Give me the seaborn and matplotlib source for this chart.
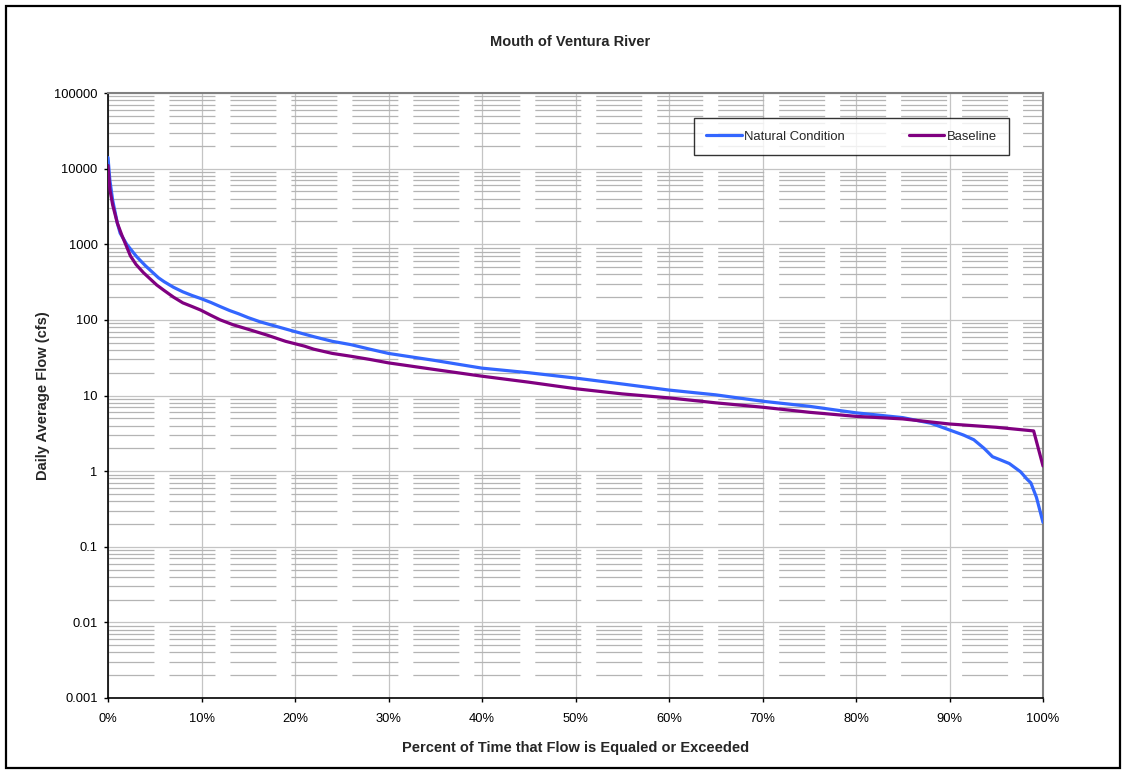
import matplotlib
matplotlib.use("Agg")
import matplotlib.pyplot as plt
from matplotlib.ticker import LogLocator, FuncFormatter, NullFormatter
from matplotlib.patches import Rectangle
import seaborn as sns
import pandas as pd

# ---- data ----
natural_pct = [0, 0.2, 0.5, 1.0, 1.3, 2, 3, 3.4, 4, 5, 5.4, 6, 7, 8, 9, 10, 11, 12, 13, 14, 15,
               16.3, 18, 20, 22, 24, 26, 28, 30, 35, 40, 45, 50, 55, 60, 65, 70, 75, 80, 85,
               88, 90, 91.5, 92.6, 93.7, 94.6, 95.5, 96.4, 97.6, 98.3, 98.7, 99.3, 100]
natural_cfs = [14000, 7000, 3800, 1900, 1400, 1000, 700, 620, 520, 400, 360, 320, 270, 235, 210,
               190, 170, 150, 133, 120, 107, 94, 82, 70, 60, 52, 47, 41, 36, 29, 23, 20, 17,
               14.2, 11.8, 10.2, 8.4, 7.2, 5.9, 5.1, 4.3, 3.5, 3.0, 2.6, 2.0, 1.55, 1.4, 1.26,
               0.98, 0.78, 0.70, 0.45, 0.21]

baseline_pct = [0, 0.2, 0.5, 1, 1.5, 2.4, 3, 3.8, 5.2, 6, 7, 8, 9, 9.9, 11, 12, 13.4, 15, 17,
                19, 21, 22, 24, 26, 28, 30, 35, 40, 45, 50, 55, 60, 65, 70, 75, 80, 85, 90,
                95, 99, 100]
baseline_cfs = [11000, 5300, 3300, 1900, 1300, 700, 540, 420, 290, 245, 200, 168, 150, 135, 115,
                100, 86, 75, 63, 52, 45, 41, 36, 33, 30, 27, 22, 18, 15, 12.3, 10.5, 9.3, 8.0,
                7.0, 6.0, 5.3, 4.9, 4.2, 3.8, 3.4, 1.17]

series_names = ["Natural Condition", "Baseline"]
series_colors = ["#3366FF", "#800080"]

title = "Mouth of Ventura River"
xlabel = "Percent of Time that Flow is Equaled or Exceeded"
ylabel = "Daily Average Flow (cfs)"
x_ticks = [0, 10, 20, 30, 40, 50, 60, 70, 80, 90, 100]
y_ticks = [0.001, 0.01, 0.1, 1, 10, 100, 1000, 10000, 100000]

# ---- style ----
sns.set_style("white")
plt.rcParams['font.family'] = ['Liberation Sans', 'DejaVu Sans']
plt.rcParams['lines.scale_dashes'] = False

W, H = 1125, 772
fig = plt.figure(figsize=(W / 100, H / 100), dpi=100)
fig.patch.set_facecolor("white")

ax_l, ax_r, ax_t, ax_b = 108, 1043, 93, 698
ax = fig.add_axes([ax_l / W, 1 - ax_b / H, (ax_r - ax_l) / W, (ax_b - ax_t) / H])

df_nat = pd.DataFrame({"pct": natural_pct, "cfs": natural_cfs})
df_base = pd.DataFrame({"pct": baseline_pct, "cfs": baseline_cfs})

sns.lineplot(data=df_nat, x="pct", y="cfs", ax=ax, color=series_colors[0], lw=2.3,
             label=series_names[0], estimator=None, sort=False, zorder=5)
sns.lineplot(data=df_base, x="pct", y="cfs", ax=ax, color=series_colors[1], lw=2.3,
             label=series_names[1], estimator=None, sort=False, zorder=6)

ax.set_yscale("log")
ax.set_ylim(0.001, 100000)
ax.set_xlim(0, 100)
ax.set_xticks(x_ticks)
ax.set_yticks(y_ticks)
ax.yaxis.set_minor_locator(LogLocator(base=10, subs=[2, 3, 4, 5, 6, 7, 8, 9], numticks=20))
ax.yaxis.set_minor_formatter(NullFormatter())
ax.yaxis.set_major_formatter(FuncFormatter(lambda v, p: f"{v:g}"))
ax.xaxis.set_major_formatter(FuncFormatter(lambda v, p: f"{int(round(v))}%"))

ax.grid(True, which="major", axis="both", color="#c4c4c4", lw=0.9, ls="-", zorder=0)
ax.grid(True, which="minor", axis="y", color="#b4b4b4", lw=0.9, ls=(0, (33.1, 10.8)), zorder=0)
ax.set_axisbelow(True)

ax.tick_params(axis="y", which="major", direction="out", length=3, width=1, pad=4.5,
               labelsize=9.3, colors="black", left=True)
ax.tick_params(axis="y", which="minor", length=0)
ax.tick_params(axis="x", which="major", direction="out", length=3, width=1, pad=8,
               labelsize=9.3, colors="black", bottom=True)

for s in ["left", "bottom"]:
    ax.spines[s].set_color("black")
    ax.spines[s].set_linewidth(1.2)
for s in ["top", "right"]:
    ax.spines[s].set_color("#808080")
    ax.spines[s].set_linewidth(1.5)

ax.set_xlabel(xlabel, fontsize=10.5, fontweight="bold")
ax.xaxis.label.set_va("center")
ax.xaxis.set_label_coords(0.5, -(748 - ax_b) / (ax_b - ax_t))
ax.set_ylabel(ylabel, fontsize=10.5, fontweight="bold")
ax.yaxis.label.set_va("center")
ax.yaxis.set_label_coords(-(ax_l - 43) / (ax_r - ax_l), 0.5)

fig.text(570 / W, 1 - 42 / H, title, ha="center", va="center", fontsize=10.5, fontweight="bold")

leg = ax.legend(loc="upper left", bbox_to_anchor=(694 / W, 1 - 118 / H),
                bbox_transform=fig.transFigure, ncol=2, fontsize=9.4, frameon=True,
                fancybox=False, edgecolor="black", borderpad=0.95, handlelength=2.7,
                handletextpad=0.2, columnspacing=4.9, borderaxespad=0)
leg.get_frame().set_linewidth(1.0)
leg.get_frame().set_facecolor("white")
leg.set_zorder(10)

# figure frame
fig.add_artist(Rectangle((6 / W, 4 / H), (1120 - 6) / W, (H - 6 - 4) / H,
                         transform=fig.transFigure, fill=False, edgecolor="black", lw=1.6))

fig.savefig("out.png", dpi=100, facecolor="white")
